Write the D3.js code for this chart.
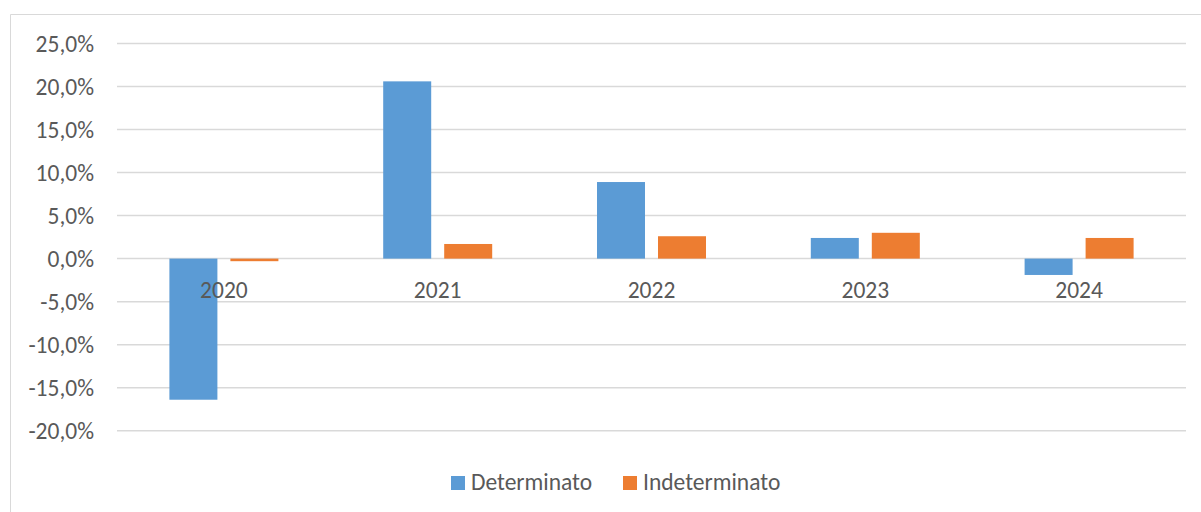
<!DOCTYPE html>
<html>
<head>
<meta charset="utf-8">
<script src="https://cdn.jsdelivr.net/npm/d3@7"></script>
<style>
  html, body { margin: 0; padding: 0; background: #fff; }
  svg { display: block; }
  text { font-family: Calibri, Carlito, Lato, "Open Sans", sans-serif; fill: #595959; }
</style>
</head>
<body>
<svg id="chart" width="1201" height="512"></svg>
<script>
// Year-on-year change of contracts, by type (%)
const years = ["2020", "2021", "2022", "2023", "2024"];
const determinato = [-16.4, 20.6, 8.9, 2.4, -1.9];
const indeterminato = [-0.3, 1.7, 2.6, 3.0, 2.4];
const seriesNames = ["Determinato", "Indeterminato"];
const seriesColors = ["#5b9bd5", "#ed7d31"];
const yTicks = [-20, -15, -10, -5, 0, 5, 10, 15, 20, 25];

const FONT = "Calibri, Carlito, Lato, 'Open Sans', sans-serif";
const FS = 23.5;

const svg = d3.select("#chart");

// chart area frame
svg.append("path")
  .attr("d", "M10.5,512 V14.5 H1201")
  .attr("fill", "none")
  .attr("stroke", "#d9d9d9")
  .attr("stroke-width", 1);

const plot = { left: 117, right: 1186, top: 43.5, bottom: 430.7 };

const x = d3.scaleBand()
  .domain(years)
  .range([plot.left, plot.right])
  .paddingInner(0)
  .paddingOuter(0);

const y = d3.scaleLinear()
  .domain([-20, 25])
  .range([plot.bottom, plot.top]);

// Italian-style percent: comma decimal, plain hyphen minus
const fmt = v => d3.format(".1f")(v).replace(".", ",").replace("\u2212", "-") + "%";

// horizontal gridlines
svg.append("g")
  .selectAll("line")
  .data(yTicks)
  .join("line")
  .attr("x1", plot.left)
  .attr("x2", plot.right)
  .attr("y1", d => y(d))
  .attr("y2", d => y(d))
  .attr("stroke", "#d9d9d9")
  .attr("stroke-width", 1.5);

// y axis labels
const yAxis = d3.axisLeft(y).tickValues(yTicks).tickFormat(fmt).tickSize(0).tickPadding(0);
const gy = svg.append("g")
  .attr("transform", `translate(94,0)`)
  .call(yAxis);
gy.select(".domain").remove();
gy.selectAll("text")
  .attr("font-size", FS)
  .attr("fill", "#595959")
  .style("font-family", FONT);

// bars
const barW = 48, barGap = 13;
const groupW = barW * 2 + barGap;
const xs = d3.scaleOrdinal().domain(seriesNames).range([0, barW + barGap]);
const data = years.flatMap((yr, i) => [
  { year: yr, series: seriesNames[0], value: determinato[i] },
  { year: yr, series: seriesNames[1], value: indeterminato[i] }
]);
const color = d3.scaleOrdinal().domain(seriesNames).range(seriesColors);

svg.append("g")
  .selectAll("rect")
  .data(data)
  .join("rect")
  .attr("x", d => x(d.year) + (x.bandwidth() - groupW) / 2 + xs(d.series))
  .attr("width", barW)
  .attr("y", d => Math.min(y(d.value), y(0)))
  .attr("height", d => Math.abs(y(d.value) - y(0)))
  .attr("fill", d => color(d.series));

// category labels next to zero line
const xAxis = d3.axisBottom(x).tickSize(0).tickPadding(0);
const gx = svg.append("g")
  .attr("transform", `translate(0,${y(0)})`)
  .call(xAxis);
gx.select(".domain").remove();
gx.selectAll("text")
  .attr("dy", null)
  .attr("y", 39)
  .attr("font-size", FS)
  .attr("fill", "#595959")
  .style("font-family", FONT);

// legend
const legend = svg.append("g");
const legendItems = [
  { name: seriesNames[0], x: 451 },
  { name: seriesNames[1], x: 623 }
];
legendItems.forEach(it => {
  legend.append("rect")
    .attr("x", it.x).attr("y", 476)
    .attr("width", 14).attr("height", 14)
    .attr("fill", color(it.name));
  legend.append("text")
    .attr("x", it.x + 20).attr("y", 490)
    .attr("font-size", FS)
    .style("font-family", FONT)
    .text(it.name);
});
</script>
</body>
</html>
